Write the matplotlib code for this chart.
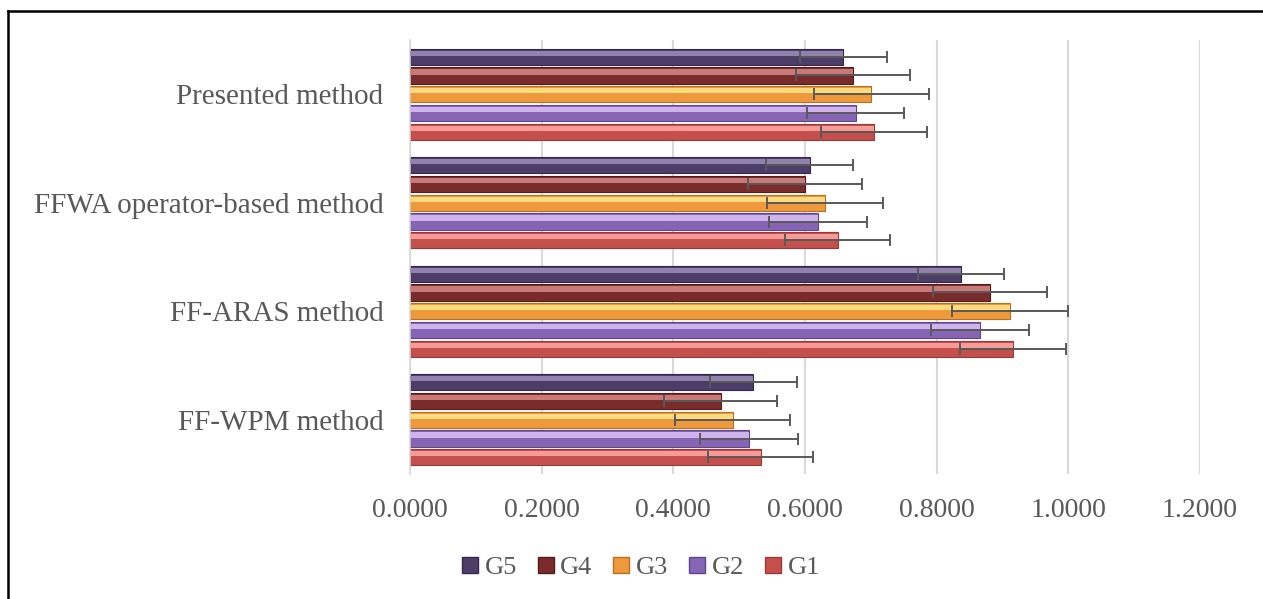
import numpy as np
import matplotlib.pyplot as plt
from matplotlib.lines import Line2D

plt.rcParams['font.family'] = ['Liberation Serif', 'DejaVu Serif']

# categories (bottom to top) and series values
methods = ["FF-WPM method", "FF-ARAS method", "FFWA operator-based method", "Presented method"]
series = ["G1", "G2", "G3", "G4", "G5"]
g1 = [0.5325, 0.9160, 0.6495, 0.7050]
g2 = [0.5153, 0.8660, 0.6200, 0.6770]
g3 = [0.4900, 0.9110, 0.6300, 0.7010]
g4 = [0.4718, 0.8810, 0.6000, 0.6730]
g5 = [0.5214, 0.8370, 0.6075, 0.6580]
errs = [0.080, 0.074, 0.088, 0.086, 0.066]
ticks = [0.0, 0.2, 0.4, 0.6, 0.8, 1.0, 1.2]

values = [g1, g2, g3, g4, g5]
# body, highlight, edge
styles = [
    ("#C4504D", "#FFA9A6", "#9A3A38"),
    ("#8765B5", "#DCC2F8", "#5F4688"),
    ("#EE9A3C", "#FFE68C", "#B8701E"),
    ("#7A2C2C", "#D58886", "#561C1C"),
    ("#4D3E69", "#9E8EB8", "#34284A"),
]

fig = plt.figure(figsize=(12.63, 5.99), dpi=100)
ax = fig.add_axes([0.3246, 0.2087, 0.6255, 0.7245])

y = np.arange(len(methods))
step = 0.173
h = 0.148
txt = "#595959"

for i, (vals, (body, hi, edge)) in enumerate(zip(values, styles)):
    pos = y + (i - 2) * step
    ax.barh(pos, vals, height=h, color=body, edgecolor=edge, linewidth=0.8, zorder=2)
    # lighter band on the upper part for the bevel look
    ax.barh(pos + h * 0.22, vals, height=h * 0.32, color=hi, linewidth=0, alpha=0.85, zorder=3)
    ax.errorbar(vals, pos, xerr=errs[i], fmt='none', ecolor="#595959",
                elinewidth=1.4, capsize=4.3, capthick=1.4, zorder=4)

ax.set_xlim(0, 1.2)
ax.set_ylim(-0.5, 3.5)
ax.set_xticks(ticks)
ax.set_xticklabels([f"{t:.4f}" for t in ticks])
ax.set_yticks(y)
ax.set_yticklabels(methods)
ax.tick_params(axis='x', length=0, pad=17, labelsize=20, labelcolor=txt)
ax.tick_params(axis='y', length=0, pad=19, labelsize=21, labelcolor=txt)
ax.grid(axis='x', color="#D9D9D9", linewidth=1.5, zorder=0)
ax.set_axisbelow(True)
for s in ["top", "right", "bottom"]:
    ax.spines[s].set_visible(False)
ax.spines["left"].set_color("#D9D9D9")
ax.spines["left"].set_linewidth(1.2)

handles = [Line2D([], [], linestyle='none', marker='s', markersize=11,
                  markerfacecolor=styles[i][0], markeredgecolor=styles[i][2])
           for i in range(4, -1, -1)]
labels = [series[i] for i in range(4, -1, -1)]
fig.legend(handles, labels, loc='center', bbox_to_anchor=(0.507, 1 - 567 / 599),
           ncol=5, frameon=False, fontsize=19, labelcolor=txt,
           handlelength=0.7, handletextpad=0.2, columnspacing=0.75)

# black frame lines (top and left) of the original figure
fig.add_artist(Line2D([8 / 1263, 1], [1 - 11 / 599, 1 - 11 / 599], transform=fig.transFigure,
                      color="black", linewidth=1.8))
fig.add_artist(Line2D([8 / 1263, 8 / 1263], [0, 1 - 11 / 599], transform=fig.transFigure,
                      color="black", linewidth=1.8))

fig.savefig("out.png", dpi=100)
